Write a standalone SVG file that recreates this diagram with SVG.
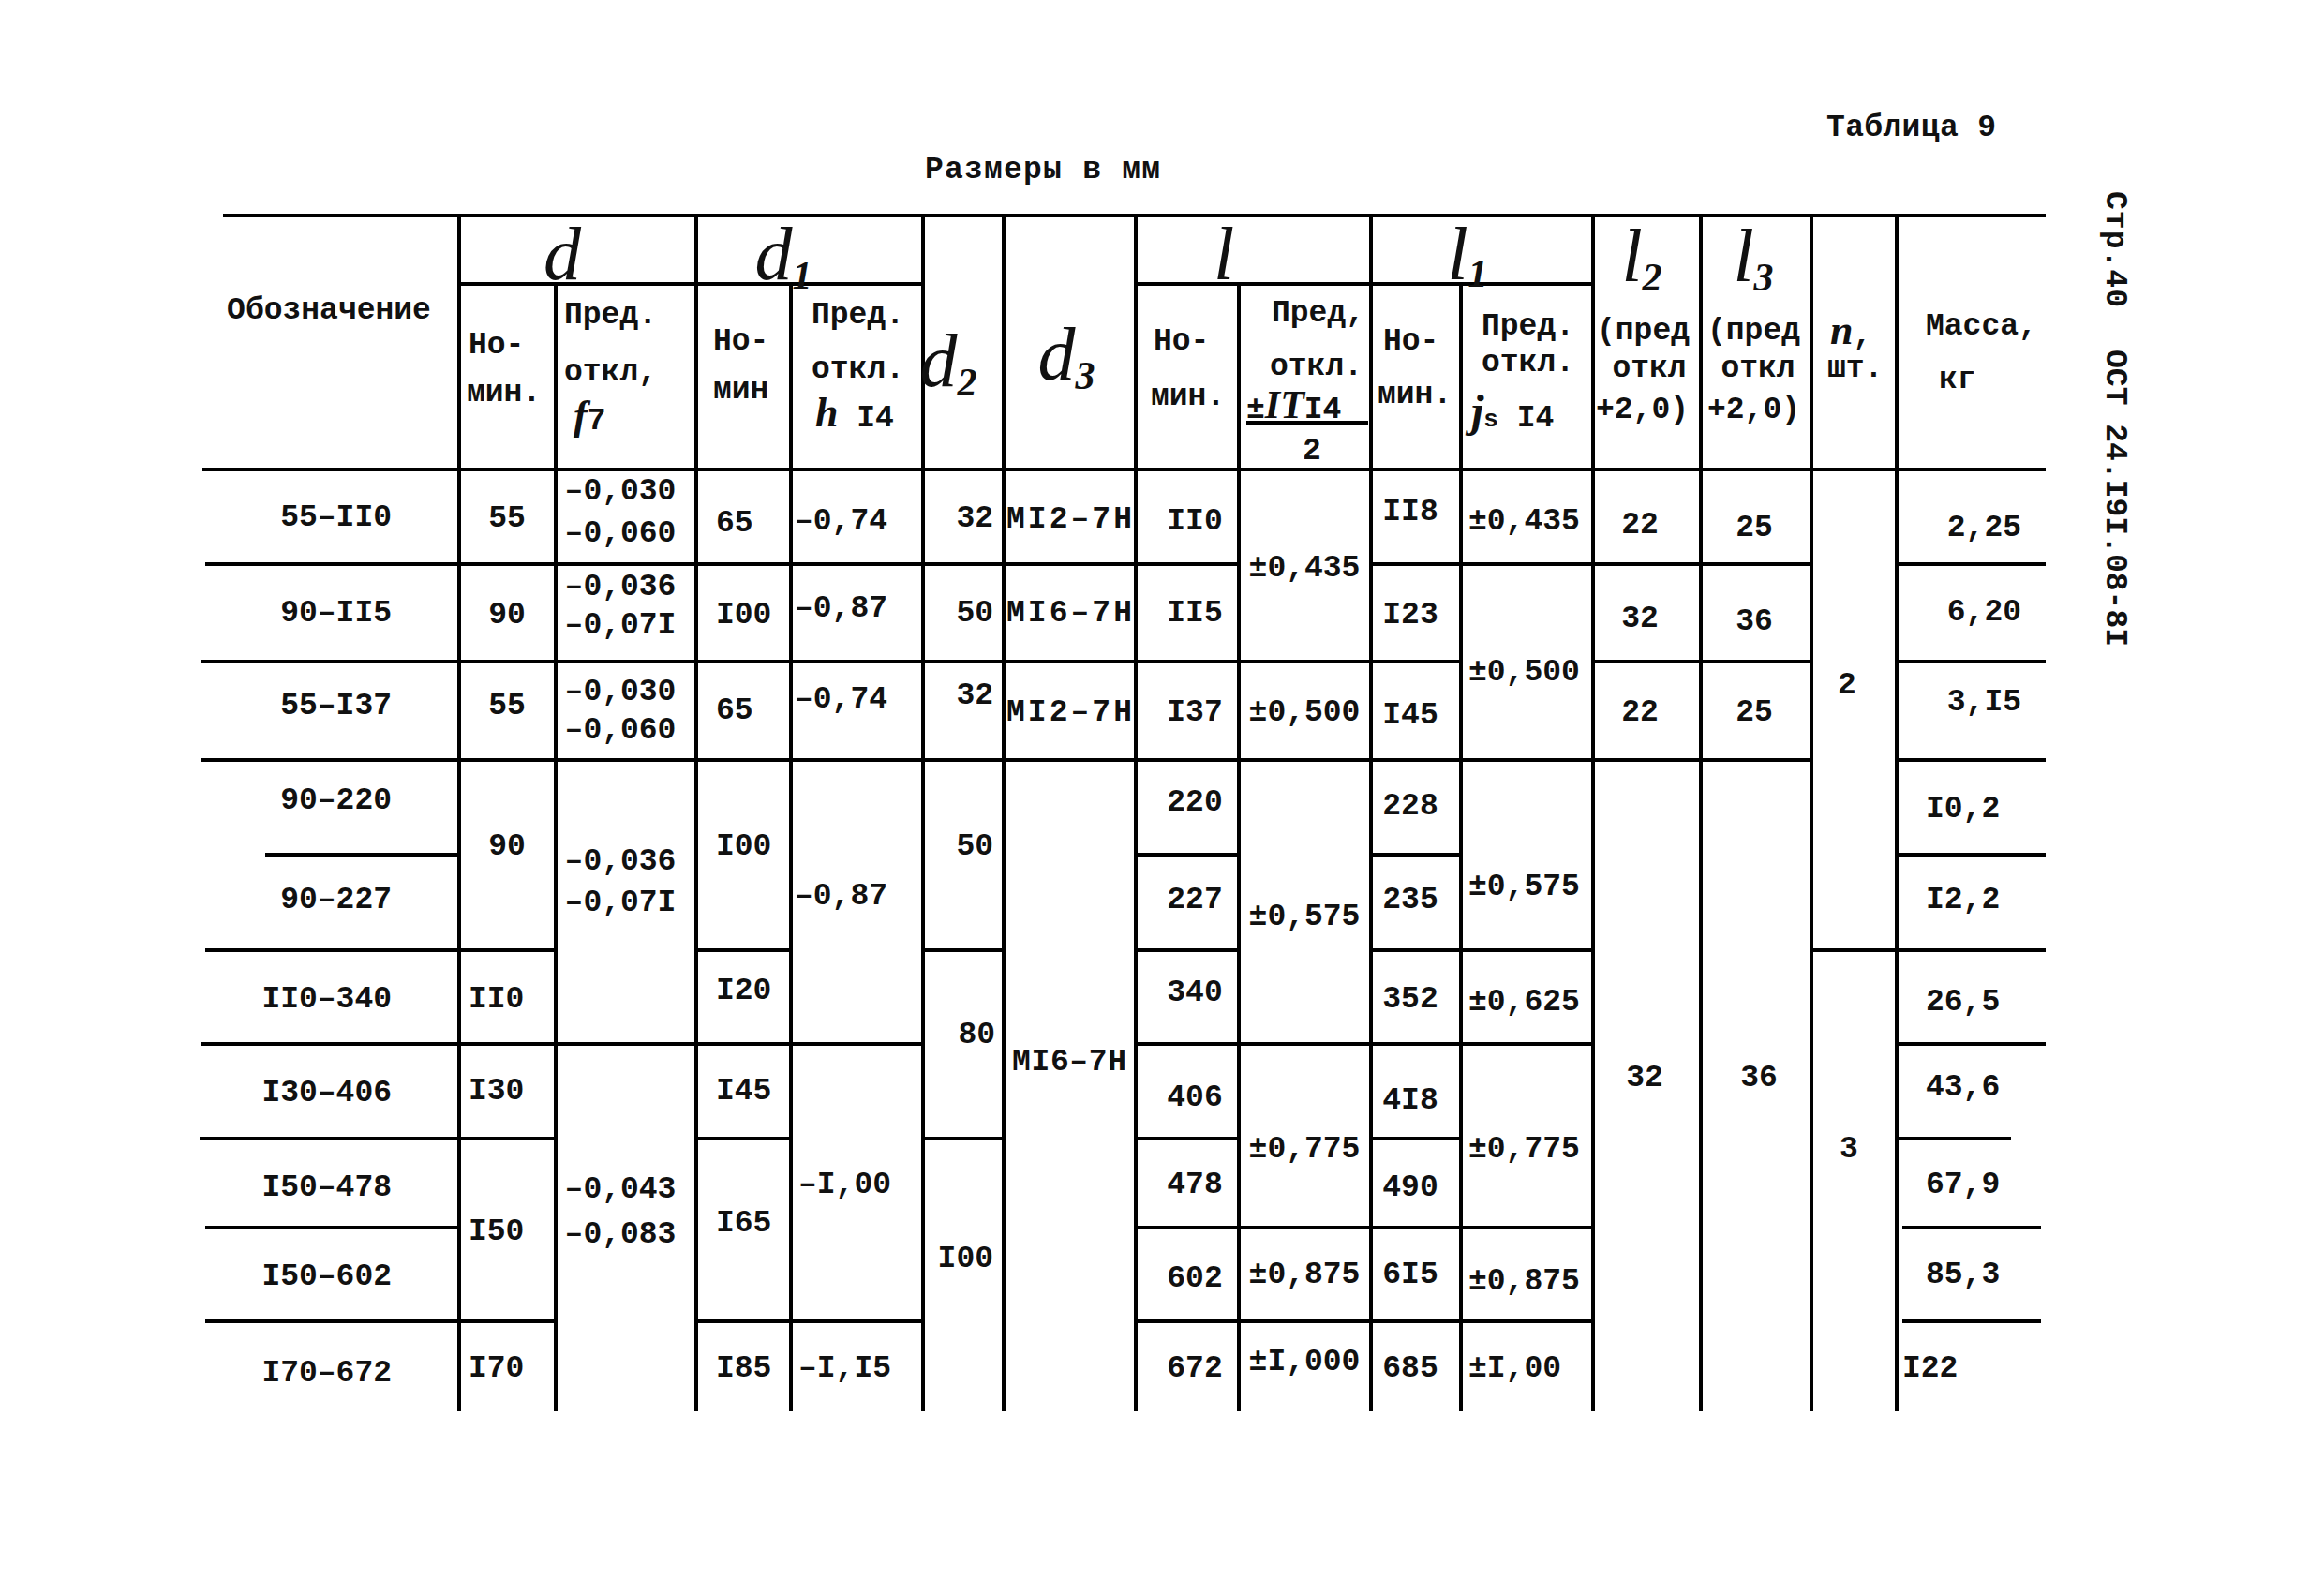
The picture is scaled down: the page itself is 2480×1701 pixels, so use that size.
<svg xmlns="http://www.w3.org/2000/svg" width="2480" height="1701" viewBox="0 0 2480 1701">
<style>
.g{stroke:#000;stroke-width:4;fill:none}
text{font-family:"Liberation Mono","DejaVu Sans Mono",monospace;font-weight:bold;font-size:33px;fill:#111}
.m{text-anchor:middle}
.e{text-anchor:end}
.sc{font-family:"Liberation Serif","DejaVu Serif",serif;font-style:italic;font-weight:normal;font-size:80px}
.it{font-family:"Liberation Serif","DejaVu Serif",serif;font-style:italic;font-weight:bold}
.sub{font-size:42px;font-weight:bold}
</style>
<rect width="2480" height="1701" fill="#fff"/>

<g id="titles">
<text x="1949" y="145" textLength="181">Таблица 9</text>
<text x="987" y="190" font-size="34" textLength="251">Размеры в мм</text>
<text x="2248" y="204" transform="rotate(90 2248 204)" textLength="124">Стр.40</text>
<text x="2248" y="373" transform="rotate(90 2248 373)" textLength="317">ОСТ 24.I9I.08-8I</text>
</g>

<g id="grid" class="g">
<path d="M238 230H2183"/>
<path d="M490 303H985M1212 303H1700"/>
<path d="M216 501H2183"/>
<path d="M219 602H1322M1463 602H1933M2024 602H2183"/>
<path d="M215 706H1559M1700 706H1933M2024 706H2183"/>
<path d="M215 811H1933M2024 811H2183"/>
<path d="M283 912H490M1212 912H1322M1463 912H1559M2024 912H2183"/>
<path d="M219 1014H593M743 1014H844M985 1014H1071M1212 1014H1322M1463 1014H1700M1933 1014H2183"/>
<path d="M215 1114H985M1212 1114H1700M2024 1114H2183"/>
<path d="M213 1215H593M743 1215H844M985 1215H1071M1212 1215H1322M1463 1215H1559M2024 1215H2146"/>
<path d="M219 1310H490M1212 1310H1700M2030 1310H2178"/>
<path d="M219 1410H593M743 1410H985M1212 1410H1700M2030 1410H2178"/>
<path d="M490 230V1506M593 303V1506M743 230V1506M844 303V1506M985 230V1506M1071 230V1506M1212 230V1506M1322 303V1506M1463 230V1506M1559 303V1506M1700 230V1506M1815 230V1506M1933 230V1506M2024 230V1506"/>
<path d="M1330 451H1460"/>
</g>

<g id="header">
<text x="351" y="340" class="m">Обозначение</text>
<text x="600" y="298" class="sc m">d</text>
<text x="836" y="298" class="sc m">d<tspan class="sub" dy="10">1</tspan></text>
<text x="1012" y="412" class="sc m">d<tspan class="sub" dy="10">2</tspan></text>
<text x="1138" y="405" class="sc m">d<tspan class="sub" dy="10">3</tspan></text>
<text x="1306" y="298" class="sc m">l</text>
<text x="1566" y="298" class="sc m">l<tspan class="sub" dy="8">1</tspan></text>
<text x="1752" y="300" class="sc m">l<tspan class="sub" dy="10">2</tspan></text>
<text x="1871" y="300" class="sc m">l<tspan class="sub" dy="10">3</tspan></text>
<text x="500" y="377">Но-</text>
<text x="498" y="428">мин.</text>
<text x="602" y="345">Пред.</text>
<text x="602" y="406">откл,</text>
<text x="612" y="458"><tspan class="it" font-size="44">f</tspan>7</text>
<text x="761" y="373">Но-</text>
<text x="761" y="425">мин</text>
<text x="866" y="345">Пред.</text>
<text x="866" y="403">откл.</text>
<text x="870" y="455"><tspan class="it" font-size="44">h</tspan> I4</text>
<text x="1231" y="373">Но-</text>
<text x="1228" y="432">мин.</text>
<text x="1357" y="343">Пред,</text>
<text x="1355" y="400">откл.</text>
<text x="1330" y="446">±<tspan class="it" font-size="42">IT</tspan>I4</text>
<text x="1400" y="490" class="m">2</text>
<text x="1476" y="373">Но-</text>
<text x="1470" y="430">мин.</text>
<text x="1581" y="357">Пред.</text>
<text x="1581" y="396">откл.</text>
<text x="1570" y="455"><tspan class="it" font-size="48">j</tspan><tspan font-size="26">s</tspan> I4</text>
<text x="1704" y="362">(пред</text>
<text x="1760" y="402" class="m">откл</text>
<text x="1703" y="446">+2,0)</text>
<text x="1822" y="362">(пред</text>
<text x="1876" y="402" class="m">откл</text>
<text x="1822" y="446">+2,0)</text>
<text x="1953" y="367"><tspan class="it" font-size="44">n</tspan>,</text>
<text x="1950" y="402">шт.</text>
<text x="2055" y="357">Масса,</text>
<text x="2069" y="414">кг</text>
</g>

<g id="col-designation" class="e">
<text x="418" y="561">55–II0</text>
<text x="418" y="663">90–II5</text>
<text x="418" y="762">55–I37</text>
<text x="418" y="863">90–220</text>
<text x="418" y="969">90–227</text>
<text x="418" y="1075">II0–340</text>
<text x="418" y="1175">I30–406</text>
<text x="418" y="1276">I50–478</text>
<text x="418" y="1371">I50–602</text>
<text x="418" y="1474">I70–672</text>
</g>

<g id="col-d">
<text x="541" y="562" class="m">55</text>
<text x="541" y="665" class="m">90</text>
<text x="541" y="762" class="m">55</text>
<text x="541" y="912" class="m">90</text>
<text x="500" y="1075">II0</text>
<text x="500" y="1173">I30</text>
<text x="500" y="1323">I50</text>
<text x="500" y="1469">I70</text>
<text x="662" y="533" class="m">–0,030</text>
<text x="662" y="578" class="m">–0,060</text>
<text x="662" y="635" class="m">–0,036</text>
<text x="662" y="676" class="m">–0,07I</text>
<text x="662" y="747" class="m">–0,030</text>
<text x="662" y="788" class="m">–0,060</text>
<text x="662" y="928" class="m">–0,036</text>
<text x="662" y="972" class="m">–0,07I</text>
<text x="662" y="1278" class="m">–0,043</text>
<text x="662" y="1326" class="m">–0,083</text>
</g>

<g id="col-d1">
<text x="764" y="567">65</text>
<text x="764" y="665">I00</text>
<text x="764" y="767">65</text>
<text x="764" y="912">I00</text>
<text x="764" y="1066">I20</text>
<text x="764" y="1173">I45</text>
<text x="764" y="1314">I65</text>
<text x="764" y="1469">I85</text>
<text x="848" y="565">–0,74</text>
<text x="848" y="658">–0,87</text>
<text x="848" y="755">–0,74</text>
<text x="848" y="965">–0,87</text>
<text x="852" y="1273">–I,00</text>
<text x="852" y="1469">–I,I5</text>
</g>

<g id="col-d2" class="e">
<text x="1060" y="562">32</text>
<text x="1060" y="663">50</text>
<text x="1060" y="751">32</text>
<text x="1060" y="912">50</text>
<text x="1062" y="1113">80</text>
<text x="1060" y="1352">I00</text>
</g>

<g id="col-d3">
<text x="1074" y="563" textLength="134">МI2–7Н</text>
<text x="1074" y="663" textLength="134">МI6–7Н</text>
<text x="1074" y="769" textLength="134">МI2–7Н</text>
<text x="1080" y="1142" textLength="122">МI6–7Н</text>
</g>

<g id="col-l" class="m">
<text x="1275" y="565">II0</text>
<text x="1275" y="663">II5</text>
<text x="1275" y="769">I37</text>
<text x="1275" y="865">220</text>
<text x="1275" y="969">227</text>
<text x="1275" y="1068">340</text>
<text x="1275" y="1180">406</text>
<text x="1275" y="1273">478</text>
<text x="1275" y="1373">602</text>
<text x="1275" y="1469">672</text>
<text x="1392" y="615">±0,435</text>
<text x="1392" y="769">±0,500</text>
<text x="1392" y="987">±0,575</text>
<text x="1392" y="1235">±0,775</text>
<text x="1392" y="1369">±0,875</text>
<text x="1392" y="1462">±I,000</text>
</g>

<g id="col-l1">
<text x="1505" y="555" class="m">II8</text>
<text x="1505" y="665" class="m">I23</text>
<text x="1505" y="772" class="m">I45</text>
<text x="1505" y="869" class="m">228</text>
<text x="1505" y="969" class="m">235</text>
<text x="1505" y="1075" class="m">352</text>
<text x="1505" y="1183" class="m">4I8</text>
<text x="1505" y="1276" class="m">490</text>
<text x="1505" y="1369" class="m">6I5</text>
<text x="1505" y="1469" class="m">685</text>
<text x="1567" y="565">±0,435</text>
<text x="1567" y="726">±0,500</text>
<text x="1567" y="955">±0,575</text>
<text x="1567" y="1078">±0,625</text>
<text x="1567" y="1235">±0,775</text>
<text x="1567" y="1376">±0,875</text>
<text x="1567" y="1469">±I,00</text>
</g>

<g id="col-l2-l3-n" class="m">
<text x="1750" y="569">22</text>
<text x="1750" y="669">32</text>
<text x="1750" y="769">22</text>
<text x="1755" y="1159">32</text>
<text x="1872" y="572">25</text>
<text x="1872" y="672">36</text>
<text x="1872" y="769">25</text>
<text x="1877" y="1159">36</text>
<text x="1971" y="740">2</text>
<text x="1973" y="1235">3</text>
</g>

<g id="col-mass">
<text x="2157" y="572" class="e">2,25</text>
<text x="2157" y="662" class="e">6,20</text>
<text x="2157" y="758" class="e">3,I5</text>
<text x="2055" y="872">I0,2</text>
<text x="2055" y="969">I2,2</text>
<text x="2055" y="1078">26,5</text>
<text x="2055" y="1169">43,6</text>
<text x="2055" y="1273">67,9</text>
<text x="2055" y="1369">85,3</text>
<text x="2030" y="1469">I22</text>
</g>
</svg>
